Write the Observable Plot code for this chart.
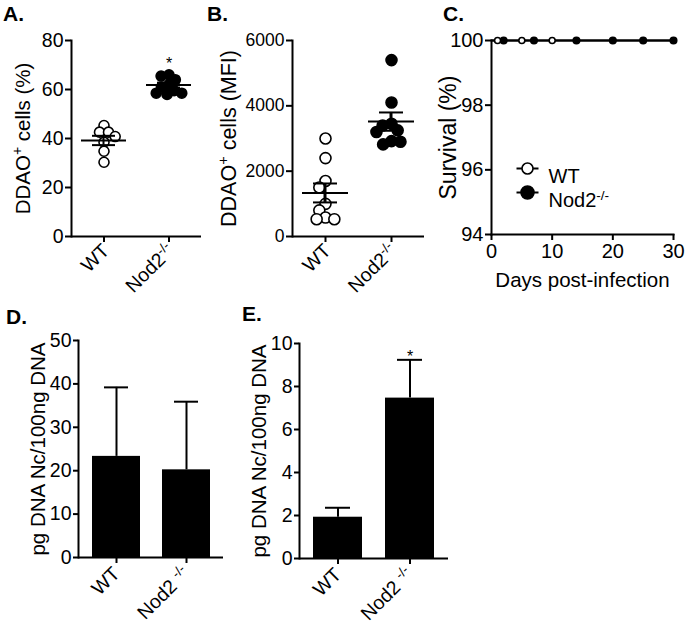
<!DOCTYPE html>
<html><head><meta charset="utf-8">
<script src="https://cdn.jsdelivr.net/npm/d3@7"></script>
<script src="https://cdn.jsdelivr.net/npm/@observablehq/plot@0.6"></script>
<style>
body{margin:0;background:#fff;}
#fig{position:relative;width:685px;height:625px;background:#fff;font-family:"Liberation Sans",Arial,sans-serif;}
.panel{position:absolute;}
.letter{position:absolute;font-weight:bold;font-size:21px;line-height:1;color:#000;}
#fig svg line, #fig svg path{stroke-width:2;}
</style></head><body><div id="fig"></div>
<script>
// ---- shared categories ----
const groups = ["WT", "Nod2^{-/-}"];
const barGroups = ["WT", "Nod2 ^{-/-}"];
// ---- Panel A: DDAO+ cells (%) ----
const aWT = [45.3, 42.6, 42.6, 40.8, 38.5, 34.8, 30.3];
const aNod2 = [66, 65.5, 64, 62, 61, 59.5, 58, 58.5, 58.5];
const aMean = [39.2, 61.8];
const aSem = [1.9, 1.0];
const aStars = ["", "*"];
const aTicks = [0, 20, 40, 60, 80];
// ---- Panel B: DDAO+ cells (MFI) ----
const bWT = [3000, 2400, 1700, 1500, 1000, 800, 580, 530, 530];
const bNod2 = [5400, 4100, 3450, 3400, 3250, 3200, 2920, 2820, 2900];
const bMean = [1333, 3517];
const bSem = [290, 280];
const bStars = ["", "*"];
const bTicks = [0, 2000, 4000, 6000];
// ---- Panel C: survival ----
const cDays = [0, 30];
const cWT = [100, 100];
const cNod2 = [100, 100];
const cWTCensor = [1, 5, 10];
const cNod2Censor = [2, 7, 14, 20, 25, 30];
const cXTicks = [0, 10, 20, 30];
const cYTicks = [94, 96, 98, 100];
const legendLabels = ["WT", "Nod2^{-/-}"];
const legendFills = ["white", "black"];
// ---- Panel D ----
const dMean = [23.3, 20.2];
const dSem = [15.9, 15.7];
const dStars = ["", ""];
const dTicks = [0, 10, 20, 30, 40, 50];
// ---- Panel E ----
const eMean = [1.92, 7.46];
const eSem = [0.44, 1.78];
const eStars = ["", "*"];
const eTicks = [0, 2, 4, 6, 8, 10];

const FONT = '"Liberation Sans", Arial, sans-serif';
const baseStyle = {fontFamily: FONT, fontSize: "19px", color: "black", background: "white", overflow: "visible"};

function supify(svg) {
  svg.querySelectorAll("text, tspan").forEach(el => {
    if (el.children.length) return;
    const t = el.textContent;
    const m = t.match(/^(.*)\^\{([^}]*)\}(.*)$/);
    if (!m) return;
    el.textContent = m[1];
    const ts = document.createElementNS("http://www.w3.org/2000/svg", "tspan");
    ts.setAttribute("baseline-shift", "super");
    ts.setAttribute("font-size", "0.68em");
    ts.textContent = m[2];
    el.appendChild(ts);
    if (m[3]) el.appendChild(document.createTextNode(m[3]));
  });
  return svg;
}
function sizes(svg, map) {
  for (const [k, v] of Object.entries(map)) {
    svg.querySelectorAll(`g[aria-label="${k}"]`).forEach(g => {
      g.style.fontSize = v + "px";
      g.querySelectorAll("text").forEach(t => t.style.fontSize = v + "px");
    });
  }
  return svg;
}
function shiftGroup(svg, key, dx, dy) {
  svg.querySelectorAll(`g[aria-label="${key}"]`).forEach(g => {
    const t = g.getAttribute("transform") || "";
    g.setAttribute("transform", `translate(${dx},${dy}) ${t}`);
  });
  return svg;
}

const fig = document.getElementById("fig");
function place(svg, left, top, map) {
  const d = document.createElement("div");
  d.className = "panel"; d.style.left = left + "px"; d.style.top = top + "px";
  d.appendChild(supify(sizes(svg, map || {}))); fig.appendChild(d);
}
function letter(t, left, top) {
  const d = document.createElement("div");
  d.className = "letter"; d.textContent = t; d.style.left = left + "px"; d.style.top = top + "px";
  fig.appendChild(d);
}

function scatter({wt, nod, mean, sem, stars, domain, ticks, label, labelOffset, marginLeft, marginRight, width, r}) {
  const pts = [
    ...wt.map(v => ({g: groups[0], v, f: "white"})),
    ...nod.map(v => ({g: groups[1], v, f: "black"}))
  ];
  const stats = groups.map((g, i) => ({g, m: mean[i], lo: mean[i] - sem[i], hi: mean[i] + sem[i], s: stars[i]}));
  const svg = Plot.plot({
    width, height: 300, marginLeft, marginRight, marginTop: 40, marginBottom: 64,
    style: baseStyle,
    fx: {domain: groups, padding: 0, axis: "bottom", label: null, tickRotate: -45, tickSize: 6, tickPadding: 6},
    y: {domain, ticks, tickFormat: "d", line: true, tickSize: 6, tickPadding: 2, label, labelAnchor: "center", labelOffset, labelArrow: "none"},
    marks: [
      Plot.ruleY([domain[0]], {strokeWidth: 2}),
      Plot.dot(pts, Plot.dodgeX({anchor: "middle", padding: -2}, {fx: "g", y: "v", r, fill: "f", stroke: "black", strokeWidth: 1.6})),
      Plot.tickY(stats, {fx: "g", y: "m", insetLeft: 10, insetRight: 10, strokeWidth: 2}),
      Plot.tickY(stats, {fx: "g", y: "lo", insetLeft: 21, insetRight: 21, strokeWidth: 2}),
      Plot.tickY(stats, {fx: "g", y: "hi", insetLeft: 21, insetRight: 21, strokeWidth: 2}),
      Plot.rect(stats, {fx: "g", y1: "lo", y2: "hi", insetLeft: 31.5, insetRight: 31.5, fill: "black"}),
      Plot.text(stats, {fx: "g", text: "s", frameAnchor: "top", dy: 17, fontSize: 16})
    ]
  });
  return shiftGroup(svg, "fx-axis tick label", 2, -1);
}

place(scatter({wt: aWT, nod: aNod2, mean: aMean, sem: aSem, stars: aStars, domain: [0, 80], ticks: aTicks,
  label: "DDAO^{+} cells (%)", labelOffset: 56, marginLeft: 71, marginRight: 14, width: 215, r: 5}), 0, 0,
  {"y-axis label": 20.5, "y-axis tick label": 19.5, "fx-axis tick label": 19.5});
place(scatter({wt: bWT, nod: bNod2, mean: bMean, sem: bSem, stars: bStars, domain: [0, 6000], ticks: bTicks,
  label: "DDAO^{+} cells (MFI)", labelOffset: 72, marginLeft: 77, marginRight: 11, width: 220, r: 5.5}), 215, 0,
  {"y-axis label": 21.5, "y-axis tick label": 17.5, "fx-axis tick label": 19.5});

// ---- Panel C ----
const curve = [
  ...cDays.map((d, i) => ({g: "WT", day: d, pct: cWT[i]})),
  ...cDays.map((d, i) => ({g: "Nod2", day: d, pct: cNod2[i]}))
];
function survAt(days, vals, t) { let v = vals[0]; days.forEach((d, i) => { if (d <= t) v = vals[i]; }); return v; }
const censor = [
  ...cWTCensor.map(d => ({day: d, pct: survAt(cDays, cWT, d), f: "white", r: 5.5})),
  ...cNod2Censor.map(d => ({day: d, pct: survAt(cDays, cNod2, d), f: "black", r: 6.5}))
];
const lineSymbol = {draw(ctx) { ctx.moveTo(-11, 0); ctx.lineTo(11, 0); }};
const legendMarks = legendLabels.flatMap((lab, i) => [
  Plot.dot([lab], {frameAnchor: "top-left", dx: 36, dy: 128 + 24 * i, symbol: lineSymbol, r: 5, stroke: "black", strokeWidth: 2, fill: "none"}),
  Plot.dot([lab], {frameAnchor: "top-left", dx: 36, dy: 128 + 24 * i, r: legendFills[i] === "white" ? 5.5 : 6.5, stroke: "black", strokeWidth: 1.6, fill: legendFills[i]}),
  Plot.text([lab], {frameAnchor: "top-left", dx: 57, dy: 128 + 24 * i, textAnchor: "start", fontSize: 20})
]);
place(Plot.plot({
  width: 255, height: 300, marginLeft: 61, marginRight: 12, marginTop: 40, marginBottom: 66,
  style: baseStyle,
  x: {domain: [0, 30], ticks: cXTicks, tickFormat: "d", line: true, tickSize: 6, tickPadding: 3, label: "Days post-infection", labelAnchor: "center", labelOffset: 52, labelArrow: "none"},
  y: {domain: [94, 100], ticks: cYTicks, tickFormat: "d", line: true, tickSize: 6, tickPadding: 2, label: "Survival (%)", labelAnchor: "center", labelOffset: 52, labelArrow: "none"},
  marks: [
    Plot.line(curve, {x: "day", y: "pct", z: "g", curve: "step-after", stroke: "black", strokeWidth: 2}),
    Plot.dot(censor, {x: "day", y: "pct", r: "r", fill: "f", stroke: "black", strokeWidth: 1.6}),
    ...legendMarks
  ]
}), 430, 0, {"y-axis label": 23, "x-axis label": 20.5, "y-axis tick label": 20, "x-axis tick label": 20});

// ---- Panels D, E ----
function bars({mean, sem, stars, domain, ticks, marginLeft, marginRight, marginTop, marginBottom, width, labelOffset}) {
  const data = barGroups.map((g, i) => ({g, m: mean[i], top: mean[i] + sem[i], s: stars[i]}));
  return Plot.plot({
    width, height: 325, marginLeft, marginRight, marginTop, marginBottom,
    style: baseStyle,
    x: {domain: barGroups, paddingInner: 0.32, paddingOuter: 0.19, tickRotate: -45, tickSize: 6, tickPadding: 7, label: null},
    y: {domain, ticks, tickFormat: "d", line: true, tickSize: 5, tickPadding: 2, label: "pg DNA Nc/100ng DNA", labelAnchor: "center", labelOffset, labelArrow: "none"},
    marks: [
      Plot.ruleX(data, {x: "g", y1: "m", y2: "top", strokeWidth: 2}),
      Plot.tickY(data, {x: "g", y: "top", insetLeft: 12, insetRight: 12, strokeWidth: 2}),
      Plot.barY(data, {x: "g", y: "m", fill: "black"}),
      Plot.ruleY([domain[0]], {strokeWidth: 2}),
      Plot.text(data, {x: "g", y: "top", text: "s", dy: -3, fontSize: 16})
    ]
  });
}
const barSizes = {"y-axis label": 20.5, "y-axis tick label": 19.5, "x-axis tick label": 19.5};
place(bars({mean: dMean, sem: dSem, stars: dStars, domain: [0, 50], ticks: dTicks, marginLeft: 78, marginRight: 17, marginTop: 40, marginBottom: 68, width: 240, labelOffset: 48}), 0, 300, barSizes);
place(bars({mean: eMean, sem: eSem, stars: eStars, domain: [0, 10], ticks: eTicks, marginLeft: 59, marginRight: 12, marginTop: 43, marginBottom: 67, width: 220, labelOffset: 48}), 240, 300, barSizes);

letter("A.", 3, 3);
letter("B.", 207, 3);
letter("C.", 443, 3);
letter("D.", 6, 306);
letter("E.", 242, 303);
</script></body></html>
